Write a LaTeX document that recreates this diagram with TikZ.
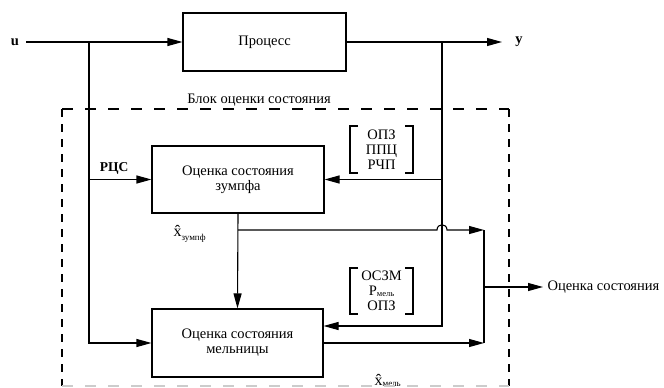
\documentclass[tikz,border=0pt]{standalone}
\usepackage{fontspec}
\setmainfont{Liberation Serif}
\usetikzlibrary{arrows.meta}
\begin{document}
\begin{tikzpicture}[x=1pt,y=-1pt,
  line width=1.1pt,
  >={Triangle[length=15pt,width=8pt]},
  txt/.style={font=\fontsize{14.5}{15}\selectfont, align=center, inner sep=0pt},
  blk/.style={draw, txt},
  brk/.style={line width=1.1pt},
  dashh/.style={line width=1.1pt, dash pattern=on 11pt off 12pt},
  dashv/.style={line width=1.1pt, dash pattern=on 8pt off 7pt},
]
\useasboundingbox (0,0) rectangle (664,388);

% blocks
\node[blk, minimum width=163pt, minimum height=58pt] (process) at (264.5,42) {Процесс};
\node[blk, minimum width=172pt, minimum height=67pt] (zumpf) at (238,179.5) {Оценка состояния\\зумпфа};
\node[blk, minimum width=171pt, minimum height=68pt] (mill) at (237.5,343) {Оценка состояния\\мельницы};

% labels
\node[txt, font=\fontsize{14.5}{15}\selectfont\bfseries] (u) at (15,42) {u};
\node[txt, font=\fontsize{14.5}{15}\selectfont\bfseries] (y) at (519,42) {y};
\node[txt, font=\fontsize{13.5}{15}\selectfont\bfseries] (rcs) at (114,168) {РЦС};
\node[txt] (blk) at (259,100) {Блок оценки состояния};
\node[txt, anchor=west] (out) at (547,287) {Оценка состояния};
\node[txt] (b1) at (381.5,150) {\baselineskip=14pt ОПЗ\\ППЦ\\РЧП};
\node[txt] (b2) at (381.5,291) {\baselineskip=14pt ОСЗМ\\Р\raisebox{-1pt}{\fontsize{8.5}{9}\selectfont мель}\\ОПЗ};
\node[txt, anchor=west, font=\fontsize{16}{16}\selectfont] (xz) at (173,234) {\^{x}\raisebox{-4pt}{\fontsize{9}{9}\selectfont зумпф}};
\node[txt, anchor=west, font=\fontsize{16}{16}\selectfont] (xm) at (374,380) {\^{x}\raisebox{-1pt}{\fontsize{9}{9}\selectfont мель}};

% coordinates
\coordinate (ustart) at (26,42);
\coordinate (yend) at (502,42);
\coordinate (bl) at (89,42);
\coordinate (br) at (442,42);
\coordinate (zr) at (442,179.5);
\coordinate (zl) at (89,179.5);
\coordinate (zo) at (238,230);
\coordinate (hopa) at (437,230);
\coordinate (hopb) at (447,230);
\coordinate (cj) at (484,230);
\coordinate (mj) at (484,343);
\coordinate (oj) at (484,287);
\coordinate (oend) at (543,287);

% connectors
\draw[->] (ustart) -- (process.west);
\draw[->] (process.east) -- (yend);
\draw (bl) -- (zl);
\draw[->] (zl) |- (mill.west);
\draw[->] (zl) -- (zumpf.west);
\draw (br) -- (zr);
\draw[->] (zr) |- ([yshift=17pt]mill.east);
\draw[->] (zr) -- (zumpf.east);
\draw[->] (zumpf.south) -- (mill.north);
\draw[->] (zo) -- (hopa) .. controls (437,223) and (447,223) .. (hopb) -- (cj);
\draw (cj) -- (mj);
\draw[->] (mill.east) -- (mj);
\draw[->] (oj) -- (oend);

% brackets
\draw[brk] (358,126) -- (350,126) -- (350,173) -- (358,173);
\draw[brk] (405,126) -- (413,126) -- (413,173) -- (405,173);
\draw[brk] (358,268) -- (350,268) -- (350,314) -- (358,314);
\draw[brk] (405,268) -- (413,268) -- (413,314) -- (405,314);

% dashed estimator block
\draw[dashh] (62,109) -- (509,109);
\draw[dashv] (62,109) -- (62,386);
\draw[dashv] (509,109) -- (509,386);
\draw[dashh, gray!40] (62,386) -- (509,386);
\end{tikzpicture}
\end{document}
